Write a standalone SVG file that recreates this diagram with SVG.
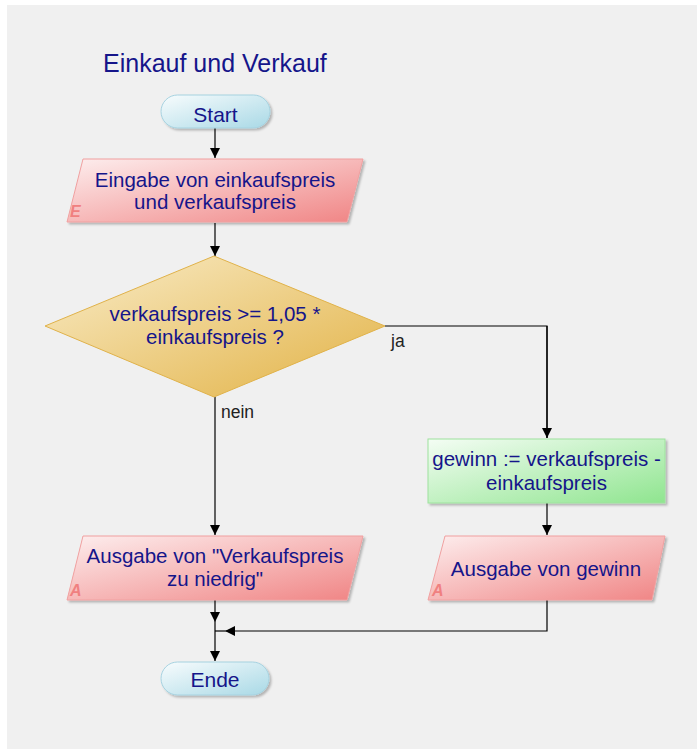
<svg xmlns="http://www.w3.org/2000/svg" width="697" height="749" viewBox="0 0 697 749">
<defs>
<linearGradient id="gT" x1="0" y1="0" x2="1" y2="1"><stop offset="0" stop-color="#f8fcfd"/><stop offset="1" stop-color="#a9d9e6"/></linearGradient>
<linearGradient id="gP" x1="0" y1="0" x2="1" y2="1"><stop offset="0" stop-color="#fdeeee"/><stop offset="1" stop-color="#f08484"/></linearGradient>
<linearGradient id="gD" x1="0" y1="0" x2="1" y2="1"><stop offset="0" stop-color="#f9ecc8"/><stop offset="1" stop-color="#e2b245"/></linearGradient>
<linearGradient id="gG" x1="0" y1="0" x2="1" y2="1"><stop offset="0" stop-color="#f4fdf4"/><stop offset="1" stop-color="#8fe58f"/></linearGradient>
<filter id="sh" x="-10%" y="-10%" width="130%" height="140%"><feDropShadow dx="2" dy="2" stdDeviation="1.2" flood-color="#000" flood-opacity="0.25"/></filter>
<marker id="ah" markerWidth="10" markerHeight="10" refX="10" refY="5" orient="auto" markerUnits="userSpaceOnUse"><path d="M0,0 L10,5 L0,10 z" fill="#000"/></marker>
</defs>
<style>
.t{font-family:"Liberation Sans",Arial,sans-serif;font-size:20.5px;fill:#15158a;text-anchor:middle}
.l{font-family:"Liberation Sans",Arial,sans-serif;font-size:17.5px;fill:#222}
.c{stroke:#000;stroke-width:1.2;fill:none}
.ca{stroke:#000;stroke-width:1.2;fill:none;marker-end:url(#ah)}
.tm{fill:url(#gT);stroke:#a6d2e0;stroke-width:1;filter:url(#sh)}
.pg{fill:url(#gP);stroke:#f0a0a0;stroke-width:1;filter:url(#sh)}
.dm{fill:url(#gD);stroke:#e0b24a;stroke-width:1}
.gr{fill:url(#gG);stroke:#9ee29e;stroke-width:1;filter:url(#sh)}
.io{font-family:"Liberation Sans",Arial,sans-serif;font-size:16px;font-weight:bold;font-style:italic;fill:#f08080}
</style>
<rect x="7" y="5" width="690" height="744" fill="#f0f0f0"/>
<text x="103" y="72" style="font-family:'Liberation Sans',Arial,sans-serif;font-size:25px;fill:#15158a">Einkauf und Verkauf</text>
<g id="connectors">
<path class="ca" d="M215,128 V158"/>
<path class="ca" d="M215,223 V256"/>
<path class="c" d="M385,326 H547 V438"/>
<path class="ca" d="M547,326 V438"/>
<path class="ca" d="M215,397 V535"/>
<path class="ca" d="M547,503 V535"/>
<path class="ca" d="M215,600 V622"/>
<path class="c" d="M215,622 V631"/>
<path class="ca" d="M547,600 V631 H225"/>
<path class="c" d="M225,631 H215"/>
<path class="ca" d="M215,631 V661"/>
<text class="l" x="391" y="347">ja</text>
<text class="l" x="221" y="418">nein</text>
</g>
<g id="start">
<rect class="tm" x="161" y="95" width="109" height="33" rx="16.5"/>
<text class="t" x="215.5" y="122" style="font-size:21px">Start</text>
</g>
<g id="eingabe">
<polygon class="pg" points="83,159 363,159 347,222 67,222"/>
<text class="t" x="215" y="187">Eingabe von einkaufspreis</text>
<text class="t" x="215" y="209">und verkaufspreis</text>
<text class="io" x="70" y="217">E</text>
</g>
<g id="decision">
<polygon class="dm" points="214,256 385,326 214,397 45,326"/>
<text class="t" x="215" y="321">verkaufspreis &gt;= 1,05 *</text>
<text class="t" x="215" y="344">einkaufspreis ?</text>
</g>
<g id="gewinn">
<rect class="gr" x="428" y="439" width="237" height="64"/>
<text class="t" x="546.5" y="466">gewinn := verkaufspreis -</text>
<text class="t" x="546.5" y="490">einkaufspreis</text>
</g>
<g id="ausgabe_gewinn">
<polygon class="pg" points="445,536 665,536 652,600 428,600"/>
<text class="t" x="546" y="576">Ausgabe von gewinn</text>
<text class="io" x="432" y="596">A</text>
</g>
<g id="ausgabe_niedrig">
<polygon class="pg" points="83,536 363,536 347,600 67,600"/>
<text class="t" x="215" y="563">Ausgabe von "Verkaufspreis</text>
<text class="t" x="215" y="586">zu niedrig"</text>
<text class="io" x="70" y="596">A</text>
</g>
<g id="ende">
<rect class="tm" x="161" y="662" width="108" height="33" rx="16.5"/>
<text class="t" x="215" y="687" style="font-size:21px">Ende</text>
</g>
</svg>
